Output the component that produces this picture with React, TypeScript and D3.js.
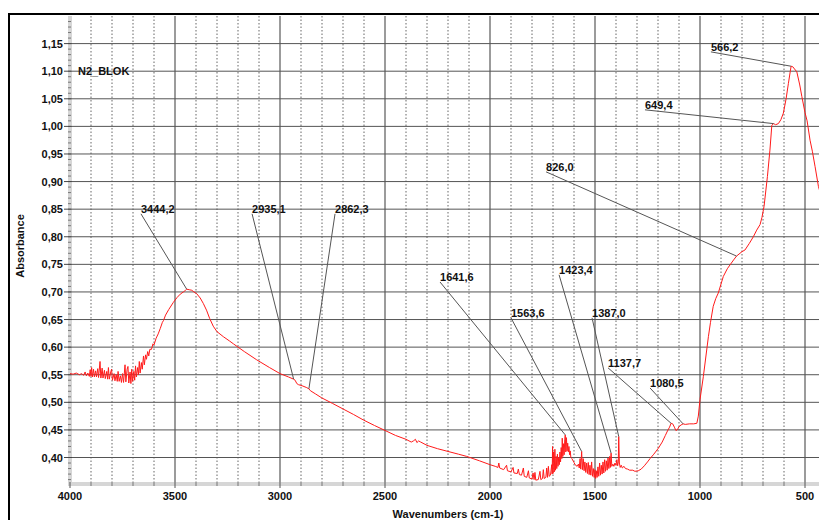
import React from 'react';
import * as d3 from 'd3';

// Sample name shown in the plot
const sampleName = 'N2_BLOK';

// IR absorbance spectrum: [wavenumber (cm-1), absorbance], high to low wavenumber
const spectrum: [number, number][] = [
  [4000, 0.552], [3985, 0.551], [3970, 0.553], [3955, 0.550], [3945, 0.552], [3935, 0.549], [3928, 0.555],
  [3922, 0.548], [3915, 0.553], [3908, 0.547], [3904, 0.559], [3900, 0.547], [3897, 0.563], [3893, 0.546],
  [3888, 0.560], [3884, 0.546], [3878, 0.557], [3874, 0.546], [3868, 0.561], [3864, 0.545], [3857, 0.574],
  [3853, 0.544], [3847, 0.562], [3843, 0.544], [3836, 0.558], [3832, 0.543], [3825, 0.556], [3821, 0.542],
  [3817, 0.563], [3813, 0.542], [3806, 0.555], [3802, 0.560], [3798, 0.540], [3790, 0.552], [3786, 0.539],
  [3780, 0.550], [3775, 0.538], [3771, 0.556], [3766, 0.538], [3760, 0.548], [3755, 0.536], [3750, 0.552],
  [3745, 0.536], [3738, 0.568], [3734, 0.537], [3728, 0.560], [3724, 0.565], [3720, 0.535], [3714, 0.555],
  [3710, 0.534], [3706, 0.560], [3702, 0.538], [3696, 0.556], [3692, 0.540], [3688, 0.566], [3684, 0.546],
  [3678, 0.563], [3674, 0.550], [3670, 0.574], [3666, 0.553], [3660, 0.572], [3656, 0.560], [3650, 0.584],
  [3646, 0.568], [3640, 0.586], [3636, 0.578], [3630, 0.592], [3625, 0.584], [3620, 0.596], [3612, 0.596],
  [3605, 0.606], [3600, 0.604], [3590, 0.616], [3580, 0.624], [3570, 0.634], [3560, 0.645], [3555, 0.648],
  [3545, 0.658], [3530, 0.668], [3508, 0.681], [3490, 0.690], [3475, 0.696], [3460, 0.700], [3450, 0.703],
  [3444.2, 0.705], [3432, 0.704], [3420, 0.703], [3410, 0.700], [3397, 0.697], [3380, 0.689], [3365, 0.679],
  [3350, 0.667], [3335, 0.652], [3318, 0.638], [3300, 0.628], [3270, 0.619], [3240, 0.611], [3222, 0.606],
  [3170, 0.592], [3111, 0.577], [3050, 0.563], [3000, 0.552], [2960, 0.546], [2935.1, 0.542], [2928, 0.540],
  [2920, 0.534], [2912, 0.532], [2895, 0.530], [2875, 0.527], [2862.3, 0.5245], [2855, 0.521], [2830, 0.515],
  [2801, 0.508], [2750, 0.498], [2700, 0.488], [2650, 0.478], [2603, 0.468], [2550, 0.458], [2500, 0.449],
  [2450, 0.440], [2400, 0.433], [2375, 0.428], [2365, 0.430], [2355, 0.433], [2348, 0.427], [2340, 0.430],
  [2330, 0.428], [2300, 0.422], [2250, 0.416], [2200, 0.411], [2150, 0.406], [2111, 0.402], [2050, 0.394],
  [2000, 0.387], [1975, 0.384], [1962, 0.382], [1958, 0.390], [1954, 0.381], [1935, 0.378], [1921, 0.386],
  [1917, 0.376], [1900, 0.374], [1890, 0.382], [1886, 0.372], [1870, 0.371], [1865, 0.379], [1860, 0.369],
  [1850, 0.368], [1841, 0.381], [1837, 0.366], [1825, 0.364], [1817, 0.376], [1813, 0.363], [1800, 0.361],
  [1795, 0.372], [1790, 0.360], [1786, 0.373], [1782, 0.359], [1770, 0.360], [1762, 0.375], [1758, 0.360],
  [1750, 0.362], [1746, 0.378], [1742, 0.362], [1734, 0.364], [1730, 0.381], [1726, 0.364], [1722, 0.384],
  [1718, 0.366], [1712, 0.368], [1706, 0.387], [1704, 0.370], [1702, 0.420], [1700, 0.371], [1697, 0.410],
  [1694, 0.374], [1691, 0.415], [1688, 0.377], [1685, 0.402], [1682, 0.380], [1679, 0.406], [1676, 0.384],
  [1673, 0.400], [1670, 0.387], [1667, 0.410], [1664, 0.392], [1661, 0.418], [1658, 0.398], [1656, 0.435],
  [1653, 0.402], [1650, 0.425], [1647, 0.405], [1644, 0.432], [1641.6, 0.441], [1639, 0.410], [1636, 0.436],
  [1633, 0.412], [1630, 0.426], [1627, 0.410], [1624, 0.420], [1621, 0.405], [1618, 0.412], [1615, 0.400],
  [1610, 0.398], [1600, 0.391], [1595, 0.387], [1585, 0.384], [1579, 0.388], [1575, 0.381], [1571, 0.398],
  [1568, 0.379], [1563.6, 0.411], [1560, 0.378], [1556, 0.398], [1552, 0.376], [1548, 0.392], [1544, 0.373],
  [1540, 0.390], [1536, 0.371], [1532, 0.391], [1528, 0.369], [1524, 0.386], [1520, 0.368], [1516, 0.392],
  [1512, 0.366], [1508, 0.380], [1504, 0.364], [1500, 0.378], [1497, 0.362], [1494, 0.376], [1490, 0.364],
  [1486, 0.383], [1482, 0.366], [1478, 0.390], [1474, 0.368], [1470, 0.386], [1466, 0.370], [1462, 0.392],
  [1458, 0.372], [1454, 0.396], [1450, 0.375], [1446, 0.394], [1442, 0.377], [1438, 0.399], [1434, 0.380],
  [1430, 0.402], [1427, 0.382], [1423.4, 0.408], [1420, 0.384], [1415, 0.388], [1410, 0.384], [1405, 0.390],
  [1400, 0.386], [1396, 0.396], [1392, 0.385], [1389, 0.392], [1387, 0.438], [1384, 0.390], [1380, 0.382],
  [1375, 0.386], [1370, 0.381], [1362, 0.384], [1355, 0.380], [1345, 0.379], [1335, 0.377], [1320, 0.377],
  [1310, 0.375], [1294, 0.376], [1280, 0.379], [1265, 0.385], [1250, 0.392], [1238, 0.398], [1220, 0.406],
  [1198, 0.417], [1180, 0.428], [1165, 0.440], [1155, 0.448], [1145, 0.455], [1137.7, 0.462], [1130, 0.461],
  [1122, 0.455], [1115, 0.449], [1108, 0.450], [1100, 0.456], [1090, 0.459], [1080.5, 0.461], [1070, 0.460],
  [1050, 0.461], [1030, 0.461], [1015, 0.462], [1008, 0.475], [1000, 0.505], [984, 0.547], [960, 0.619],
  [950, 0.645], [937, 0.674], [925, 0.688], [913, 0.698], [889, 0.728], [870, 0.742], [857, 0.749],
  [840, 0.758], [826, 0.765], [800, 0.773], [786, 0.776], [765, 0.788], [746, 0.800], [730, 0.812],
  [714, 0.822], [705, 0.835], [695, 0.855], [679, 0.909], [667, 0.957], [658, 1.002], [649.4, 1.005],
  [640, 1.003], [627, 1.005], [615, 1.012], [603, 1.024], [590, 1.050], [579, 1.078], [570, 1.100],
  [566.2, 1.109], [558, 1.108], [550, 1.104], [539, 1.099], [525, 1.075], [515, 1.054], [500, 1.025],
  [490, 1.010], [476, 0.975], [465, 0.955], [452, 0.927], [436, 0.891], [420, 0.870],
];

// Labelled peak positions (cm-1)
const peakWavenumbers = [3444.2, 2935.1, 2862.3, 1641.6, 1563.6, 1423.4, 1387.0, 1137.7, 1080.5, 826.0, 649.4, 566.2];
// Where each peak label sits, in data units (wavenumber, absorbance)
const labelWavenumbers = [3662, 3133, 2738, 2238, 1900, 1671, 1514, 1438, 1238, 1733, 1262, 948];
const labelAbsorbances = [0.8415, 0.8415, 0.8415, 0.718, 0.653, 0.731, 0.653, 0.5625, 0.526, 0.9176, 1.030, 1.135];

// Axis ticks
const xMajorTicks = [4000, 3500, 3000, 2500, 2000, 1500, 1000, 500];
const xMinorTicks = d3.range(3900, 400, -100).filter((v) => v % 500 !== 0);
const yTicks = d3.range(0.40, 1.151, 0.05);
const yMinorTicks = d3.range(0.36, 1.20, 0.01);

const xTitle = 'Wavenumbers (cm-1)';
const yTitle = 'Absorbance';

const locale = d3.formatLocale({ decimal: ',', thousands: '', grouping: [3], currency: ['', ''] });
const fmtPeak = locale.format('.1f');
const fmtY = locale.format('.2f');

const W = 819;
const H = 520;
const plot = { left: 70, right: 826, top: 16, bottom: 484 };

const FONT = '"Liberation Sans", Arial, Helvetica, sans-serif';

export default function App() {
  const x = d3.scaleLinear().domain([4000, 400]).range([plot.left, plot.right]);
  const y = d3.scaleLinear().domain([0.352, 1.2]).range([plot.bottom, plot.top]);

  const line = d3
    .line<[number, number]>()
    .x((d) => x(d[0]))
    .y((d) => y(d[1]));

  // absorbance on the curve at a given wavenumber (linear between stored points)
  const asc = [...spectrum].sort((a, b) => a[0] - b[0]);
  const bis = d3.bisector((d: [number, number]) => d[0]).left;
  const valueAt = (w: number) => {
    const i = bis(asc, w);
    if (i <= 0) return asc[0][1];
    if (i >= asc.length) return asc[asc.length - 1][1];
    const a = asc[i - 1];
    const b = asc[i];
    if (b[0] === w) return b[1];
    const t = (w - a[0]) / (b[0] - a[0]);
    return a[1] + t * (b[1] - a[1]);
  };

  const textStyle: React.CSSProperties = { fontFamily: FONT, fontWeight: 700, fontSize: 11 };

  return (
    <svg
      width={W}
      height={H}
      viewBox={`0 0 ${W} ${H}`}
      style={{ position: 'absolute', left: 0, top: 0, background: '#fff' }}
    >
      <defs>
        <clipPath id="plot-clip">
          <rect x={plot.left} y={plot.top} width={plot.right - plot.left} height={plot.bottom - plot.top} />
        </clipPath>
      </defs>
      <rect x={0} y={0} width={W} height={H} fill="#fff" />

      {/* outer frame */}
      <rect x={9} y={14} width={900} height={600} fill="none" stroke="#000" strokeWidth={2} />

      {/* minor vertical grid (dotted) */}
      {xMinorTicks.map((t) => (
        <line
          key={`xm${t}`}
          x1={x(t)}
          x2={x(t)}
          y1={plot.top}
          y2={plot.bottom}
          stroke="#666"
          strokeWidth={1}
          strokeDasharray="1.5,2"
        />
      ))}
      {/* major vertical grid */}
      {xMajorTicks.slice(1).map((t) => (
        <line key={`xM${t}`} x1={x(t)} x2={x(t)} y1={plot.top} y2={plot.bottom} stroke="#7a7a7a" strokeWidth={1.5} />
      ))}
      {/* horizontal grid */}
      {yTicks.map((t) => (
        <line key={`y${t}`} x1={plot.left} x2={plot.right} y1={y(t)} y2={y(t)} stroke="#555" strokeWidth={1} />
      ))}

      {/* axis bands */}
      <rect x={plot.left - 2} y={plot.top} width={4} height={plot.bottom - plot.top + 2} fill="#d6d6d6" />
      <rect x={plot.left - 2} y={plot.bottom - 2} width={plot.right - plot.left + 2} height={4} fill="#d6d6d6" />

      {/* y ticks */}
      {yMinorTicks.map((t, i) => (
        <line key={`ym${i}`} x1={plot.left - 2} x2={plot.left + 1} y1={y(t)} y2={y(t)} stroke="#777" strokeWidth={1} />
      ))}
      {yTicks.map((t) => (
        <g key={`yl${t}`}>
          <line x1={plot.left - 6} x2={plot.left + 2} y1={y(t)} y2={y(t)} stroke="#444" strokeWidth={1} />
          <text x={plot.left - 7} y={y(t) + 4} textAnchor="end" style={textStyle} fill="#111">
            {fmtY(t)}
          </text>
        </g>
      ))}

      {/* x ticks */}
      {xMinorTicks.map((t) => (
        <line key={`xt${t}`} x1={x(t)} x2={x(t)} y1={plot.bottom - 2} y2={plot.bottom + 2} stroke="#777" strokeWidth={1} />
      ))}
      {xMajorTicks.map((t) => (
        <g key={`xl${t}`}>
          <line x1={x(t)} x2={x(t)} y1={plot.bottom - 2} y2={plot.bottom + 4} stroke="#555" strokeWidth={1} />
          <text x={x(t)} y={500} textAnchor="middle" style={textStyle} fill="#111">
            {t}
          </text>
        </g>
      ))}

      {/* axis titles */}
      <text x={(plot.left + plot.right) / 2} y={518} textAnchor="middle" style={textStyle} fill="#111">
        {xTitle}
      </text>
      <text
        transform={`translate(24, ${(plot.top + plot.bottom) / 2 - 4}) rotate(-90)`}
        textAnchor="middle"
        style={textStyle}
        fill="#111"
      >
        {yTitle}
      </text>

      {/* spectrum */}
      <g clipPath="url(#plot-clip)">
        <path d={line(spectrum) ?? ''} fill="none" stroke="#ff1a1a" strokeWidth={1} strokeLinejoin="round" />
      </g>

      {/* peak call-outs */}
      {peakWavenumbers.map((w, i) => {
        const lx = x(labelWavenumbers[i]);
        const ly = y(labelAbsorbances[i]);
        return (
          <g key={`pk${i}`}>
            <line x1={lx} y1={ly} x2={x(w)} y2={y(valueAt(w))} stroke="#555" strokeWidth={1} />
            <text x={lx} y={ly - 1} style={textStyle} fill="#111">
              {fmtPeak(w)}
            </text>
          </g>
        );
      })}

      {/* sample name */}
      <text x={78} y={75} style={textStyle} fill="#111">
        {sampleName}
      </text>
    </svg>
  );
}
